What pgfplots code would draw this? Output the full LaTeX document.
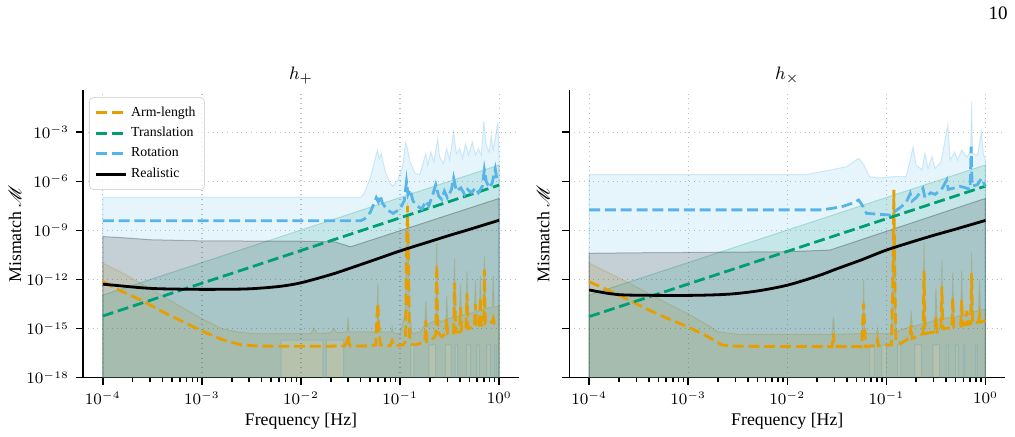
\documentclass[border=0pt]{standalone}
\usepackage{pgfplots}
\pgfplotsset{compat=1.18}
\usepackage{fontspec}
\setmainfont{Liberation Serif}
\usepackage{mathrsfs}

\definecolor{armc}{HTML}{E69F00}
\definecolor{trac}{HTML}{009E73}
\definecolor{rotc}{HTML}{56B4E9}

\begin{document}
\begin{tikzpicture}
\path[use as bounding box] (0,0) rectangle (507.5pt,218.5pt);
\node[anchor=east, inner sep=0pt, font=\fontsize{9.5}{11}\selectfont] at (504pt,212pt) {10};

% ---------------- plus polarisation ----------------
\begin{axis}[
    at={(41.5pt,29.65pt)}, anchor=south west,
    xmode=log, ymode=log, scale only axis, width=218pt, height=144pt,
    xmin=6.31e-5, xmax=1.585, ymin=1e-18, ymax=0.398,
    xtick={1e-4,1e-3,1e-2,1e-1,1},
    ytick={1e-18,1e-15,1e-12,1e-9,1e-6,1e-3},
    yminorticks=false,
    axis x line=bottom, axis y line=left,
    axis line style={-, line width=0.8pt},
    tick align=outside, major tick length=3.5pt, minor tick length=2pt,
    tick style={black, line width=0.8pt},
    grid=major, major grid style={dotted, line width=0.6pt, black!25},
    tick label style={font=\fontsize{7.8}{9}\selectfont},
    label style={font=\fontsize{8.9}{10}\selectfont},
    title style={font=\fontsize{9.3}{10}\selectfont, at={(axis description cs:0.5,1)}, anchor=center, yshift=1pt},
    title={$h_+$},
    xlabel={Frequency [Hz]},
    xlabel style={at={(axis description cs:0.5,0)}, anchor=center, yshift=-21.6pt},
    ylabel={Mismatch $\mathscr{M}$},
    ylabel style={at={(axis description cs:-0.156,0.5)}, anchor=center},
    legend image code/.code={\draw[#1] (0pt,0pt) -- (15pt,0pt);},
    legend style={at={(0,1)}, anchor=north west, xshift=3pt, yshift=-3.75pt,
      draw=black!15, fill=white, fill opacity=0.8, text opacity=1, draw opacity=1,
      rounded corners=2pt, font=\fontsize{6.9}{8}\selectfont, row sep=0pt, inner sep=2.5pt},
    legend cell align=left]

% arm-length band
\addplot[forget plot, fill=armc, draw=armc, fill opacity=0.15, draw opacity=0.25, line width=0.5pt] coordinates {(1e-4,1e-19) (1e-4,1e-11) (1.58e-4,2.5e-12) (2.51e-4,5e-13) (3.98e-4,1e-13) (6.31e-4,2e-14) (1e-3,4e-15) (1.58e-3,1e-15) (2.29e-3,6.3e-16) (3.16e-3,5e-16) (0.0126,5e-16) (0.0135,1.1e-15) (0.0145,5e-16) (0.02,5.6e-16) (0.0214,1e-15) (0.023,5.6e-16) (0.0292,6.3e-16) (0.0299,5.4e-15) (0.0305,6.3e-16) (0.0582,6.3e-16) (0.0596,6.3e-13) (0.061,6.3e-16) (0.0813,6.3e-16) (0.0832,1.26e-15) (0.0851,5.6e-16) (0.1,5e-16) (0.1135,1e-14) (0.1189,5e-8) (0.1245,1e-14) (0.1318,5e-16) (0.1585,6.3e-16) (0.1778,1.6e-15) (0.182,5e-14) (0.1862,1.6e-15) (0.2089,2.5e-15) (0.2291,3.2e-15) (0.2344,1.6e-10) (0.2399,4e-15) (0.263,2.5e-15) (0.2917,4e-15) (0.2951,1e-13) (0.302,4e-15) (0.3467,5e-15) (0.3548,2e-11) (0.3631,5e-15) (0.3981,6.3e-15) (0.4074,5e-13) (0.4169,6.3e-15) (0.4624,7.9e-15) (0.4732,3.2e-12) (0.4842,7.9e-15) (0.5623,1e-14) (0.5754,1e-12) (0.5888,1e-14) (0.631,1.26e-14) (0.6457,1.6e-12) (0.6607,1.26e-14) (0.6998,1.6e-14) (0.7079,2.5e-11) (0.7244,1.6e-14) (0.8511,2e-14) (0.871,1.6e-12) (0.8913,2e-14) (1,2.5e-14) (1,1e-19) (1e-4,1e-19)};
% translation band
\addplot[forget plot, fill=trac, draw=trac, fill opacity=0.15, draw opacity=0.25, line width=0.5pt] coordinates {(1e-4,1e-19) (1e-4,1.12e-13) (1,1e-5) (1,1e-19) (1e-4,1e-19)};
% rotation band
\addplot[forget plot, fill=rotc, draw=rotc, fill opacity=0.15, draw opacity=0.25, line width=0.5pt] coordinates {(1e-4,1e-19) (1e-4,1.05e-7) (0.04,1.05e-7) (0.0437,2e-7) (0.05,1.6e-6) (0.055,1.6e-5) (0.059,7.9e-5) (0.0617,2.5e-5) (0.0646,5e-5) (0.0708,4e-6) (0.079,7.9e-7) (0.085,5e-7) (0.095,1.26e-6) (0.107,1e-5) (0.1135,2.5e-4) (0.1175,1.26e-4) (0.126,1.6e-5) (0.141,3.2e-6) (0.158,2.5e-6) (0.17,1.26e-5) (0.182,5e-5) (0.19,1e-5) (0.204,6.3e-5) (0.219,1.6e-5) (0.24,4e-4) (0.25,3.2e-5) (0.275,1.26e-5) (0.295,1e-4) (0.316,2e-5) (0.347,1e-3) (0.37,5e-5) (0.4,1e-4) (0.427,2.5e-5) (0.457,2e-4) (0.49,4e-5) (0.537,2.5e-4) (0.575,4e-5) (0.617,1e-4) (0.66,4e-5) (0.7,5e-3) (0.74,1.6e-4) (0.794,6.3e-5) (0.83,6.3e-4) (0.87,7.9e-5) (0.912,4e-4) (0.966,4e-3) (1,3.2e-5)
 (1,1e-19) (0.93,1e-19) (0.93,1e-16) (0.9,1e-16) (0.9,1e-19) (0.81,1e-19) (0.81,1e-16) (0.75,1e-16) (0.75,1e-19) (0.63,1e-19) (0.63,1e-16) (0.597,1e-16) (0.597,1e-19) (0.513,1e-19) (0.513,1e-16) (0.473,1e-16) (0.473,1e-19) (0.38,1e-19) (0.38,1e-16) (0.36,1e-16) (0.36,1e-19) (0.327,1e-19) (0.327,1e-16) (0.286,1e-16) (0.286,1e-19) (0.228,1e-19) (0.228,1e-16) (0.195,1e-16) (0.195,1e-19) (0.138,1e-19) (0.138,1e-16) (0.128,1e-16) (0.128,1e-19) (0.027,1e-19) (0.027,2e-16) (0.018,2e-16) (0.018,1e-19) (0.0166,1e-19) (0.0166,2e-16) (0.0063,2e-16) (0.0063,1e-19) (1e-4,1e-19)};
% realistic band
\addplot[forget plot, fill=black, draw=black, fill opacity=0.15, draw opacity=0.25, line width=0.5pt] coordinates {(1e-4,1e-19) (1e-4,4.2e-10) (1.6e-4,3.6e-10) (3e-4,2.7e-10) (1e-3,2.3e-10) (0.01,2.2e-10) (0.022,2e-10) (0.0316,1e-10) (1,9.1e-8) (1,1e-19) (1e-4,1e-19)};

% medians
\addplot[armc, line width=1.4pt, dash pattern=on 5.5pt off 2.4pt] coordinates {(1e-4,7.4e-13) (1.58e-4,1.8e-13) (2.51e-4,5e-14) (3.98e-4,1.1e-14) (6.31e-4,2.8e-15) (1e-3,7.1e-16) (1.58e-3,2.2e-16) (2.51e-3,1e-16) (3.98e-3,8.5e-17) (0.0158,8.3e-17) (0.0275,8.7e-17) (0.0292,1.6e-16) (0.0299,4e-16) (0.0305,1.26e-16) (0.0316,8.5e-17) (0.0501,8.9e-17) (0.0569,1e-16) (0.0582,3.2e-15) (0.0596,3.5e-14) (0.061,1.6e-15) (0.0631,1e-16) (0.0794,8.9e-17) (0.0832,1.8e-16) (0.0871,8.9e-17) (0.107,1e-16) (0.1135,1.6e-16) (0.1161,1e-10) (0.1189,3.2e-8) (0.1216,1e-11) (0.1245,3.2e-16) (0.1318,1.1e-16) (0.1445,1e-16) (0.1778,1.6e-16) (0.182,3.2e-15) (0.1862,1.6e-16) (0.2089,2e-16) (0.2291,4e-16) (0.2344,7.9e-12) (0.2399,6.3e-16) (0.263,3.2e-16) (0.2917,5e-16) (0.2951,4e-15) (0.302,5e-16) (0.3467,5e-16) (0.3548,6.3e-13) (0.3631,6.3e-16) (0.3981,6.3e-16) (0.4074,2e-14) (0.4169,7.9e-16) (0.4624,7.9e-16) (0.4732,1.4e-13) (0.4842,1e-15) (0.5623,1.26e-15) (0.5754,3.2e-14) (0.5888,1.26e-15) (0.631,1.26e-15) (0.6457,7.9e-14) (0.6607,1.6e-15) (0.6998,1.6e-15) (0.7079,4e-12) (0.7244,2e-15) (0.8511,2.5e-15) (0.871,4e-15) (0.8913,2.2e-15) (1,2.8e-15)};
\addlegendentry{Arm-length}
\addplot[trac, line width=1.4pt, dash pattern=on 5.5pt off 2.4pt] coordinates {(1e-4,5.9e-15) (1,5.9e-7)};
\addlegendentry{Translation}
\addplot[rotc, line width=1.4pt, dash pattern=on 5.5pt off 2.4pt] coordinates {(1e-4,3.9e-9) (0.04,3.9e-9) (0.0437,5e-9) (0.05,1.26e-8) (0.055,5e-8) (0.0575,1e-7) (0.0603,5.6e-8) (0.063,1.4e-7) (0.066,5e-8) (0.074,1.8e-8) (0.085,1.1e-8) (0.1,2e-8) (0.11,6.3e-8) (0.116,9.3e-7) (0.12,1.6e-7) (0.126,3.2e-7) (0.135,6.3e-8) (0.148,3.2e-8) (0.166,2e-8) (0.182,6.3e-8) (0.195,3.2e-8) (0.214,1.6e-7) (0.229,6.3e-7) (0.245,1.26e-7) (0.263,7.9e-8) (0.28,2.5e-7) (0.3,1e-7) (0.33,3.2e-7) (0.347,1.6e-6) (0.37,2.5e-7) (0.41,4e-7) (0.447,1.6e-7) (0.48,3.2e-7) (0.525,2e-7) (0.575,4e-7) (0.617,2e-7) (0.676,5e-7) (0.708,5e-6) (0.74,1e-6) (0.794,4e-7) (0.85,7.9e-7) (0.912,5.6e-6) (0.955,1e-6) (1,1e-6)};
\addlegendentry{Rotation}
\addplot[black, line width=1.4pt, smooth] coordinates {(1e-4,5.2e-13) (1.58e-4,4e-13) (2.51e-4,3.1e-13) (3.98e-4,2.7e-13) (1e-3,2.5e-13) (2.51e-3,2.6e-13) (3.98e-3,3e-13) (6.31e-3,3.9e-13) (0.01,6.3e-13) (0.02,2e-12) (0.0316,5e-12) (0.0562,1.66e-11) (0.1,5.6e-11) (0.2,2.1e-10) (0.316,5e-10) (0.5,1.15e-9) (1,4.2e-9)};
\addlegendentry{Realistic}
\end{axis}

% ---------------- cross polarisation ----------------
\begin{axis}[
    at={(284.65pt,29.65pt)}, anchor=south west,
    xmode=log, ymode=log, scale only axis, width=218pt, height=144pt,
    xmin=6.31e-5, xmax=1.585, ymin=1e-18, ymax=0.398,
    xtick={1e-4,1e-3,1e-2,1e-1,1},
    ytick={1e-18,1e-15,1e-12,1e-9,1e-6,1e-3},
    yticklabels={},
    yminorticks=false,
    axis x line=bottom, axis y line=left,
    axis line style={-, line width=0.8pt},
    tick align=outside, major tick length=3.5pt, minor tick length=2pt,
    tick style={black, line width=0.8pt},
    grid=major, major grid style={dotted, line width=0.6pt, black!25},
    tick label style={font=\fontsize{7.8}{9}\selectfont},
    label style={font=\fontsize{8.9}{10}\selectfont},
    title style={font=\fontsize{9.3}{10}\selectfont, at={(axis description cs:0.5,1)}, anchor=center, yshift=1pt},
    title={$h_\times$},
    xlabel={Frequency [Hz]},
    xlabel style={at={(axis description cs:0.5,0)}, anchor=center, yshift=-21.6pt},
    ylabel={Mismatch $\mathscr{M}$},
    ylabel style={at={(axis description cs:-0.06,0.5)}, anchor=center}]

% arm-length band
\addplot[forget plot, fill=armc, draw=armc, fill opacity=0.15, draw opacity=0.25, line width=0.5pt] coordinates {(1e-4,1e-19) (1e-4,1e-11) (1.58e-4,2.5e-12) (2.51e-4,6.3e-13) (3.98e-4,1.4e-13) (6.31e-4,3.2e-14) (1e-3,7.9e-15) (1.58e-3,1.6e-15) (2e-3,6.3e-16) (3.16e-3,4.5e-16) (0.0282,4.5e-16) (0.0292,5.4e-15) (0.0302,4.5e-16) (0.0575,5e-16) (0.0589,1e-12) (0.0603,5e-16) (0.0794,5e-16) (0.0813,1e-15) (0.0832,5e-16) (0.1122,5e-16) (0.1161,1e-10) (0.1189,3.2e-7) (0.1216,1e-10) (0.1245,6.3e-16) (0.1738,1.3e-15) (0.1778,1.26e-14) (0.182,1.3e-15) (0.2344,2e-15) (0.2399,1.7e-10) (0.2455,2e-15) (0.309,3.2e-15) (0.3162,3.2e-13) (0.3236,3.2e-15) (0.3548,4e-15) (0.3631,1.6e-11) (0.3715,4e-15) (0.4571,5e-15) (0.4677,2.5e-12) (0.4786,5e-15) (0.5623,6.3e-15) (0.5754,3.2e-12) (0.5888,6.3e-15) (0.7079,1e-14) (0.7244,5e-11) (0.7413,1e-14) (0.8511,1.26e-14) (0.871,1e-12) (0.8913,1.26e-14) (1,1.6e-14) (1,1e-19) (1e-4,1e-19)};
% translation band
\addplot[forget plot, fill=trac, draw=trac, fill opacity=0.15, draw opacity=0.25, line width=0.5pt] coordinates {(1e-4,1e-19) (1e-4,1.12e-13) (1,1e-5) (1,1e-19) (1e-4,1e-19)};
% rotation band
\addplot[forget plot, fill=rotc, draw=rotc, fill opacity=0.15, draw opacity=0.25, line width=0.5pt] coordinates {(1e-4,1e-19) (1e-4,2.6e-6) (0.0158,2.6e-6) (0.0269,4.9e-6) (0.0398,7.9e-6) (0.0479,1.8e-5) (0.0525,2.5e-5) (0.0589,1.1e-5) (0.0676,1.9e-6) (0.0832,1.6e-6) (0.126,2e-6) (0.158,1.9e-6) (0.174,2e-5) (0.186,1.26e-4) (0.2,1e-5) (0.229,5e-6) (0.245,5.4e-5) (0.263,6e-6) (0.288,3.2e-5) (0.31,6.3e-6) (0.355,1.5e-5) (0.417,2.75e-3) (0.44,2e-5) (0.49,6.3e-5) (0.52,2e-5) (0.575,8e-5) (0.65,3e-5) (0.708,7e-5) (0.724,7.2e-2) (0.74,5e-5) (0.83,4e-5) (0.91,1.07e-3) (0.95,5e-5) (1,2e-5)
 (1,1e-19) (0.83,1e-19) (0.83,1e-16) (0.8,1e-16) (0.8,1e-19) (0.62,1e-19) (0.62,1e-16) (0.6,1e-16) (0.6,1e-19) (0.53,1e-19) (0.53,1e-16) (0.5,1e-16) (0.5,1e-19) (0.42,1e-19) (0.42,1e-16) (0.4,1e-16) (0.4,1e-19) (0.345,1e-19) (0.345,1e-16) (0.295,1e-16) (0.295,1e-19) (0.226,1e-19) (0.226,1e-16) (0.194,1e-16) (0.194,1e-19) (0.14,1e-19) (0.14,1e-16) (0.13,1e-16) (0.13,1e-19) (0.1,1e-19) (0.1,1e-16) (0.09,1e-16) (0.09,1e-19) (0.075,1e-19) (0.075,1e-16) (0.068,1e-16) (0.068,1e-19) (1e-4,1e-19)};
% realistic band
\addplot[forget plot, fill=black, draw=black, fill opacity=0.15, draw opacity=0.25, line width=0.5pt] coordinates {(1e-4,1e-19) (1e-4,4e-11) (3e-4,4.3e-11) (1e-3,4.5e-11) (0.01,5e-11) (0.0269,6.3e-11) (1,9.1e-8) (1,1e-19) (1e-4,1e-19)};

% medians
\addplot[armc, line width=1.4pt, dash pattern=on 5.5pt off 2.4pt] coordinates {(1e-4,7.4e-13) (1.58e-4,2.1e-13) (2.51e-4,5.6e-14) (3.16e-4,2.8e-14) (3.98e-4,1.4e-14) (6.31e-4,4e-15) (1e-3,1.26e-15) (1.58e-3,3.2e-16) (2.19e-3,1e-16) (3.16e-3,8.3e-17) (0.0251,7.9e-17) (0.0282,7.9e-17) (0.0288,1.6e-16) (0.0292,5e-16) (0.0295,1.6e-16) (0.0302,7.9e-17) (0.0562,7.9e-17) (0.0575,1.6e-15) (0.0589,3.5e-14) (0.0603,1.26e-15) (0.0617,7.9e-17) (0.0794,8.9e-17) (0.0813,2e-16) (0.0832,8.9e-17) (0.1122,1e-16) (0.1161,1e-12) (0.1189,3e-7) (0.1216,1e-12) (0.1245,1.6e-16) (0.1413,1.26e-16) (0.1585,2e-16) (0.1738,3.2e-16) (0.1778,1.6e-15) (0.182,2.5e-16) (0.2089,3.2e-16) (0.2344,5e-16) (0.2399,3.2e-12) (0.2455,5e-16) (0.309,6.3e-16) (0.3162,5e-15) (0.3236,6.3e-16) (0.3548,7.9e-16) (0.3631,3.6e-13) (0.3715,1e-15) (0.4571,1.1e-15) (0.4677,7.9e-14) (0.4786,1.26e-15) (0.5623,1.4e-15) (0.5754,5.6e-14) (0.5888,1.6e-15) (0.631,1.8e-15) (0.6457,1.26e-14) (0.6607,1.8e-15) (0.7079,2e-15) (0.7244,2.4e-12) (0.7413,2.2e-15) (0.8511,2.5e-15) (0.871,6.3e-15) (0.8913,2.5e-15) (1,3.2e-15)};
\addplot[trac, line width=1.4pt, dash pattern=on 5.5pt off 2.4pt] coordinates {(1e-4,5.4e-15) (1,5.1e-7)};
\addplot[rotc, line width=1.4pt, dash pattern=on 5.5pt off 2.4pt] coordinates {(1e-4,1.8e-8) (0.0224,1.8e-8) (0.0355,2.8e-8) (0.0447,4.5e-8) (0.0525,7.2e-8) (0.0575,3.2e-8) (0.063,1.1e-8) (0.0794,1e-8) (0.1096,8.7e-9) (0.1175,1.26e-8) (0.138,2.5e-8) (0.158,5e-8) (0.174,1.8e-7) (0.182,6.3e-8) (0.2,1e-7) (0.234,3.7e-7) (0.245,1e-7) (0.28,2e-7) (0.31,1.6e-7) (0.36,3.2e-7) (0.407,1.2e-6) (0.42,3.2e-7) (0.49,4e-7) (0.55,5e-7) (0.63,4e-7) (0.7,3.2e-7) (0.716,1.3e-4) (0.733,5e-7) (0.83,6.3e-7) (0.91,1.5e-6) (1,5e-7)};
\addplot[black, line width=1.4pt, smooth] coordinates {(1e-4,2.3e-13) (1.58e-4,1.4e-13) (2.51e-4,1.12e-13) (1e-3,1.07e-13) (2.51e-3,1.26e-13) (5e-3,2e-13) (0.01,4.5e-13) (0.02,1.6e-12) (0.0316,4.5e-12) (0.0562,1.6e-11) (0.1,6.3e-11) (0.2,2.4e-10) (0.316,5.5e-10) (0.5,1.2e-9) (1,4.1e-9)};
\end{axis}
\end{tikzpicture}
\end{document}
